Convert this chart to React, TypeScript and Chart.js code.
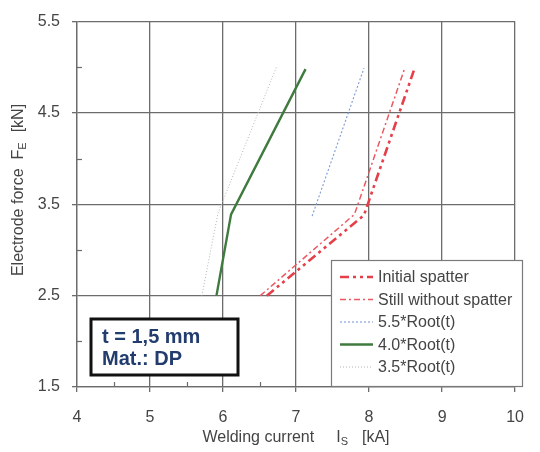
import React, { useEffect, useRef } from 'react';
import { Chart, registerables } from 'chart.js';

Chart.register(...registerables);

// ---- axis ranges / ticks ----
const X_MIN = 4;
const X_MAX = 10;
const Y_MIN = 1.5;
const Y_MAX = 5.5;
const xMajorTicks = [4, 5, 6, 7, 8, 9, 10];
const xMinorTicks = [4.5, 5.5, 6.5, 7.5, 8.5, 9.5];
const yMajorTicks = [1.5, 2.5, 3.5, 4.5, 5.5];
const yMinorTicks = [2, 3, 4, 5];

// ---- series (welding current kA, electrode force kN) ----
const seriesLabels = ['Initial spatter', 'Still without spatter', '5.5*Root(t)', '4.0*Root(t)', '3.5*Root(t)'];
const initialX = [6.6, 7.93, 8.62];
const initialY = [2.5, 3.38, 4.98];
const stillX = [6.51, 7.8, 8.48];
const stillY = [2.5, 3.39, 4.97];
const root55X = [7.22, 7.93];
const root55Y = [3.37, 4.99];
const root40X = [5.91, 6.11, 7.13];
const root40Y = [2.5, 3.39, 4.98];
const root35X = [5.71, 5.93, 6.73];
const root35Y = [2.5, 3.4, 5.0];

const noteLines = ['t = 1,5 mm', 'Mat.: DP'];

const FONT = "'Liberation Sans', Arial, sans-serif";
const TEXT = '#444444';
const GRID = '#6c6c6c';

const pts = (xs: number[], ys: number[]) => xs.map((x, i) => ({ x, y: ys[i] }));

const overlayPlugin = {
  id: 'overlay',
  beforeDatasetsDraw(chart: any) {
    const ctx = chart.ctx;
    const xs = chart.scales.x;
    const ys = chart.scales.y;
    const area = chart.chartArea;
    ctx.save();
    ctx.strokeStyle = GRID;
    ctx.lineWidth = 1.2;
    xMinorTicks.forEach((v) => {
      const px = Math.round(xs.getPixelForValue(v)) + 0.5;
      ctx.beginPath();
      ctx.moveTo(px, area.bottom);
      ctx.lineTo(px, area.bottom - 5);
      ctx.stroke();
    });
    yMinorTicks.forEach((v) => {
      const py = Math.round(ys.getPixelForValue(v)) + 0.5;
      ctx.beginPath();
      ctx.moveTo(area.left, py);
      ctx.lineTo(area.left + 5, py);
      ctx.stroke();
    });
    ctx.restore();
  },
  afterDatasetsDraw(chart: any) {
    const ctx = chart.ctx;
    ctx.save();

    // ---- legend box ----
    const lx = 331, ly = 260, lw = 191, lh = 126;
    ctx.fillStyle = '#ffffff';
    ctx.fillRect(lx, ly, lw, lh);
    ctx.strokeStyle = '#7a7a7a';
    ctx.lineWidth = 1.2;
    ctx.strokeRect(lx + 0.5, ly + 0.5, lw, lh);
    chart.data.datasets.forEach((ds: any, i: number) => {
      const ry = 277 + i * 22.5;
      ctx.save();
      ctx.strokeStyle = ds.borderColor;
      ctx.lineWidth = ds.borderWidth;
      ctx.setLineDash(ds.borderDash || []);
      ctx.beginPath();
      ctx.moveTo(340, ry);
      ctx.lineTo(373, ry);
      ctx.stroke();
      ctx.restore();
      ctx.fillStyle = TEXT;
      ctx.font = `16px ${FONT}`;
      ctx.textAlign = 'left';
      ctx.textBaseline = 'middle';
      ctx.fillText(ds.label, 378, ry + 1);
    });

    // ---- note box ----
    const bx = 91, by = 319, bw = 147, bh = 56;
    ctx.fillStyle = '#ffffff';
    ctx.fillRect(bx, by, bw, bh);
    ctx.strokeStyle = '#111111';
    ctx.lineWidth = 3;
    ctx.strokeRect(bx, by, bw, bh);
    ctx.fillStyle = '#223c6e';
    ctx.font = `bold 20px ${FONT}`;
    ctx.textAlign = 'left';
    ctx.textBaseline = 'alphabetic';
    noteLines.forEach((t, i) => ctx.fillText(t, 102, 343 + i * 22));

    // ---- axis titles ----
    const drawTitle = (cx: number, cy: number, rot: boolean, main: string, sym: string, sub: string, unit: string, g1: number, g2: number) => {
      ctx.save();
      ctx.translate(cx, cy);
      if (rot) ctx.rotate(-Math.PI / 2);
      ctx.fillStyle = TEXT;
      ctx.textBaseline = 'alphabetic';
      ctx.textAlign = 'left';
      ctx.font = `16px ${FONT}`;
      const wMain = ctx.measureText(main).width;
      const wSym = ctx.measureText(sym).width;
      const wUnit = ctx.measureText(unit).width;
      ctx.font = `11px ${FONT}`;
      const wSub = ctx.measureText(sub).width;
      const total = wMain + g1 + wSym + wSub + g2 + wUnit;
      let x = -total / 2;
      const base = 6;
      ctx.font = `16px ${FONT}`;
      ctx.fillText(main, x, base);
      x += wMain + g1;
      ctx.fillText(sym, x, base);
      x += wSym;
      ctx.font = `11px ${FONT}`;
      ctx.fillText(sub, x, base + 3);
      x += wSub + g2;
      ctx.font = `16px ${FONT}`;
      ctx.fillText(unit, x, base);
      ctx.restore();
    };
    drawTitle(296, 436, false, 'Welding current', 'I', 'S', '[kA]', 22, 14);
    drawTitle(17, 190, true, 'Electrode force', 'F', 'E', '[kN]', 9, 10);

    ctx.restore();
  },
};

export default function App() {
  const ref = useRef<HTMLCanvasElement | null>(null);
  useEffect(() => {
    if (!ref.current) return;
    const chart = new Chart(ref.current, {
      type: 'line',
      data: {
        datasets: [
          { label: seriesLabels[0], data: pts(initialX, initialY), borderColor: '#e5404a', borderWidth: 2.6, borderDash: [9, 4, 3, 4, 3, 4] },
          { label: seriesLabels[1], data: pts(stillX, stillY), borderColor: '#ea5a62', borderWidth: 1.5, borderDash: [6, 3, 2, 3] },
          { label: seriesLabels[2], data: pts(root55X, root55Y), borderColor: '#7d9ad4', borderWidth: 1.1, borderDash: [2, 2] },
          { label: seriesLabels[3], data: pts(root40X, root40Y), borderColor: '#3f7a3f', borderWidth: 2.4, borderDash: [] },
          { label: seriesLabels[4], data: pts(root35X, root35Y), borderColor: '#b4b4b4', borderWidth: 1, borderDash: [1, 2] },
        ].map((d) => ({ ...d, pointRadius: 0, fill: false, tension: 0 })),
      },
      options: {
        responsive: false,
        animation: false,
        parsing: true,
        layout: { padding: { top: 17, right: 12, left: 0, bottom: 0 } },
        plugins: { legend: { display: false }, tooltip: { enabled: false }, title: { display: false } },
        scales: {
          x: {
            type: 'linear',
            min: X_MIN,
            max: X_MAX,
            afterBuildTicks: (s: any) => { s.ticks = xMajorTicks.map((v) => ({ value: v })); },
            afterFit: (s: any) => { s.height = 65; },
            ticks: { color: TEXT, font: { family: FONT, size: 16 }, padding: 16, maxRotation: 0, autoSkip: false, callback: (v: any) => String(v) },
            grid: { color: GRID, lineWidth: 1.3, tickColor: GRID, tickLength: 5, drawTicks: true },
            border: { display: true, color: GRID, width: 1.3 },
          },
          y: {
            type: 'linear',
            min: Y_MIN,
            max: Y_MAX,
            afterBuildTicks: (s: any) => { s.ticks = yMajorTicks.map((v) => ({ value: v })); },
            afterFit: (s: any) => { s.width = 77; },
            ticks: { color: TEXT, font: { family: FONT, size: 16 }, padding: 12, autoSkip: false, callback: (v: any) => Number(v).toFixed(1) },
            grid: { color: GRID, lineWidth: 1.3, tickColor: GRID, tickLength: 5, drawTicks: true },
            border: { display: true, color: GRID, width: 1.3 },
          },
        },
      },
      plugins: [overlayPlugin],
    } as any);
    return () => chart.destroy();
  }, []);
  return (
    <div style={{ position: 'fixed', left: 0, top: 0, width: 540, height: 452, background: '#fff' }}>
      <canvas ref={ref} width={540} height={452} />
    </div>
  );
}
